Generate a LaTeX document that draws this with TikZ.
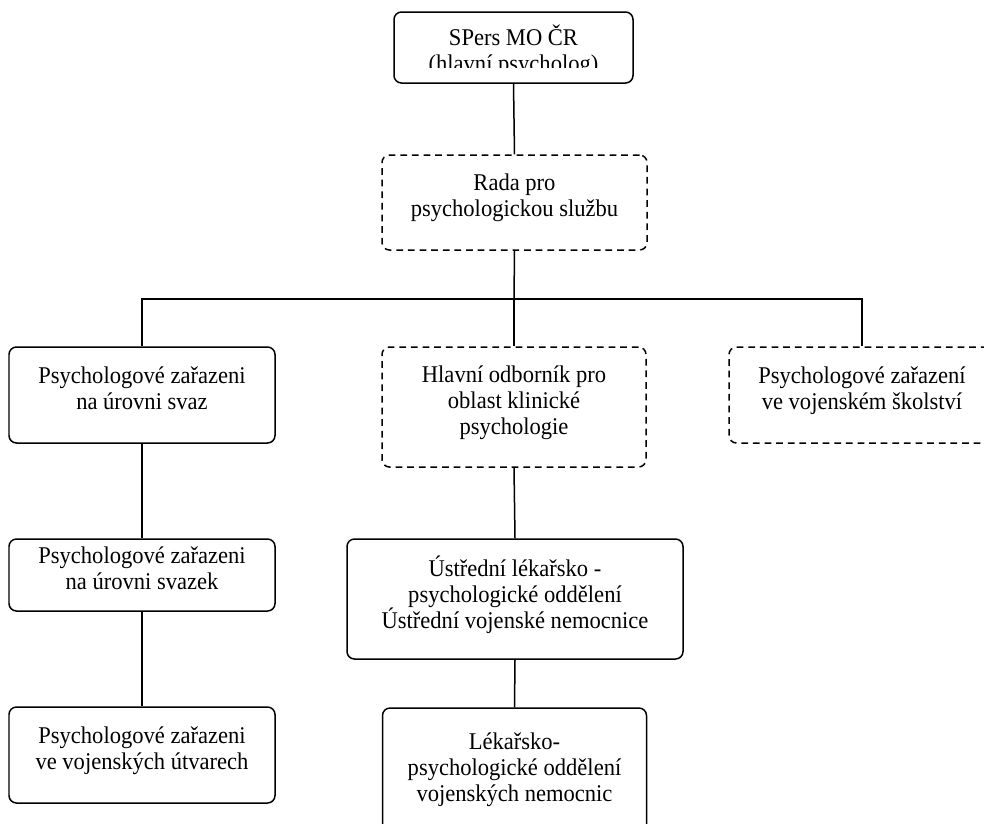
\documentclass[tikz,border=0pt]{standalone}
\usepackage{fontspec}
\setmainfont{Liberation Serif}[FakeStretch=0.94]
\usetikzlibrary{positioning}

\begin{document}
\begin{tikzpicture}[x=0.01875cm, y=-0.01875cm,
  box/.style={draw, line width=0.8pt, rounded corners=4pt, align=center,
    inner sep=0pt, text depth=7.5pt, font=\fontsize{12.8}{14}\selectfont},
  dbox/.style={box, dash pattern=on 3.6pt off 2.6pt}]

\def\u{0.01875cm}

\useasboundingbox (0,0) rectangle (984,823);
\clip (0,0) rectangle (984,823);

% 定义节点
\node[box, minimum width=239*\u, minimum height=71*\u] (B1) at (513.5,47.5) {};
\begin{scope}
\clip (395,12) rectangle (633,67);
\node[font=\fontsize{12.8}{14}\selectfont, align=center, inner sep=0pt] (T1) at (513.5,51)
    {SPers MO ČR\\(hlavní psycholog)};
\end{scope}

\node[dbox, minimum width=265*\u, minimum height=95*\u] (B2) at (514.5,202.5)
    {Rada pro\\psychologickou službu};

\node[box, minimum width=266*\u, minimum height=96*\u] (B3) at (142,395)
    {Psychologové zařazeni\\na úrovni svaz};
\node[dbox, minimum width=264*\u, minimum height=120*\u] (B4) at (514,407)
    {Hlavní odborník pro\\oblast klinické\\psychologie};
\node[dbox, minimum width=266*\u, minimum height=96*\u] (B5) at (862,395)
    {Psychologové zařazení\\ve vojenském školství};

\node[box, minimum width=266*\u, minimum height=72*\u] (B6) at (142,575)
    {Psychologové zařazeni\\na úrovni svazek};
\node[box, minimum width=266*\u, minimum height=96*\u] (B7) at (142,755)
    {Psychologové zařazeni\\ve vojenských útvarech};

\node[box, minimum width=336*\u, minimum height=120*\u] (B8) at (515,599)
    {Ústřední lékařsko -\\psychologické oddělení\\Ústřední vojenské nemocnice};
\node[box, minimum width=264*\u, minimum height=132*\u] (B9) at (514.5,774)
    {Lékařsko-\\psychologické oddělení\\vojenských nemocnic};

\coordinate (J) at (514,299);

% spojnice
\draw[line width=0.8pt] (B1.south) -- (B2.north);
\draw[line width=0.8pt] (B2.south) -- (J);
\draw[line width=0.8pt] (B3.north) |- (J) -| (B5.north);
\draw[line width=0.8pt] (J) -- (B4.north);
\draw[line width=0.8pt] (B3.south) -- (B6.north);
\draw[line width=0.8pt] (B6.south) -- (B7.north);
\draw[line width=0.8pt] (B4.south) -- (B8.north);
\draw[line width=0.8pt] (B8.south) -- (B9.north);

\end{tikzpicture}
\end{document}
